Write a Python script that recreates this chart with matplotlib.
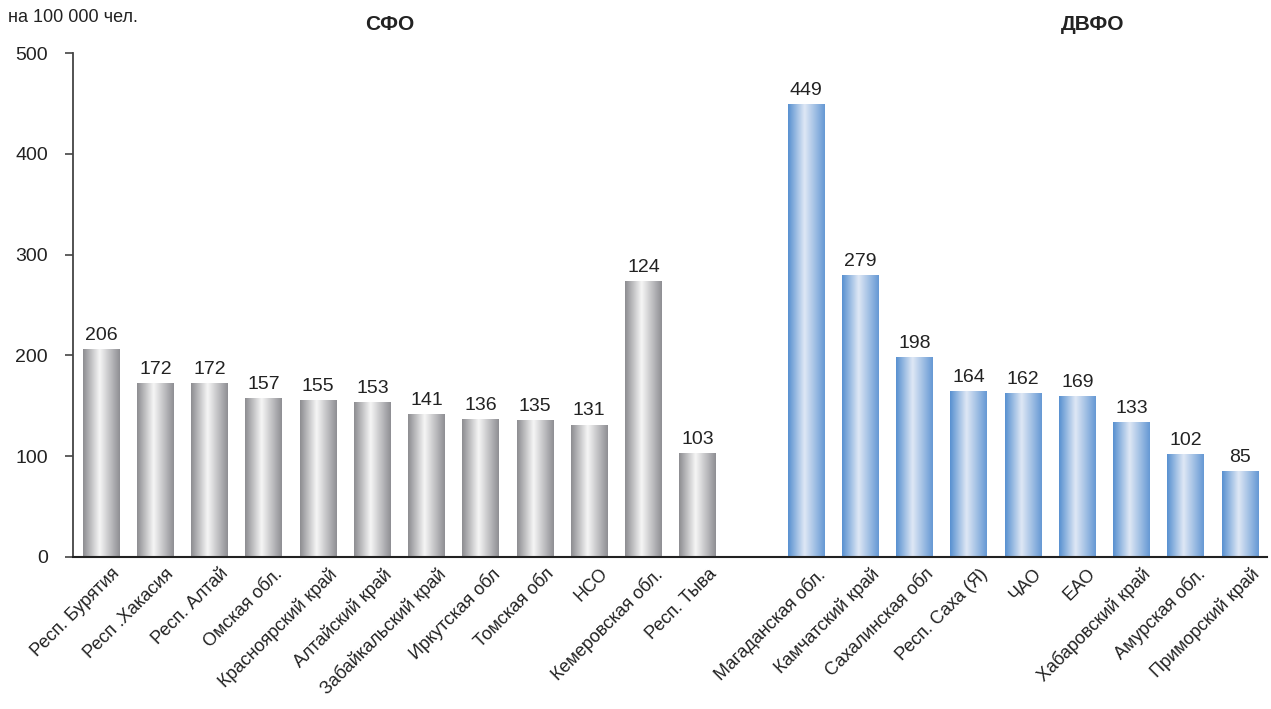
import numpy as np
import matplotlib.pyplot as plt
from matplotlib.colors import LinearSegmentedColormap
from matplotlib.transforms import ScaledTranslation

plt.rcParams['font.family'] = ['Liberation Sans', 'DejaVu Sans']

# ── data ──
sfo_names = ['Респ. Бурятия', 'Респ .Хакасия', 'Респ. Алтай', 'Омская обл.',
             'Красноярский край', 'Алтайский край', 'Забайкальский край',
             'Иркутская обл', 'Томская обл', 'НСО', 'Кемеровская обл.',
             'Респ. Тыва']
sfo_values = [206, 172, 172, 157, 155, 153, 141, 136, 135, 131, 273, 103]
sfo_labels = ['206', '172', '172', '157', '155', '153', '141', '136', '135',
              '131', '124', '103']

dvfo_names = ['Магаданская обл.', 'Камчатский край', 'Сахалинская обл',
              'Респ. Саха (Я)', 'ЧАО', 'ЕАО', 'Хабаровский край',
              'Амурская обл.', 'Приморский край']
dvfo_values = [449, 279, 198, 164, 162, 159, 133, 102, 85]
dvfo_labels = ['449', '279', '198', '164', '162', '169', '133', '102', '85']

y_ticks = [0, 100, 200, 300, 400, 500]

# gradients (left edge -> highlight -> right edge)
gray_cmap = LinearSegmentedColormap.from_list(
    'gray_bar', [(0.0, '#8c8c90'), (0.45, '#f6f6f6'), (1.0, '#8e8e93')])
blue_cmap = LinearSegmentedColormap.from_list(
    'blue_bar', [(0.0, '#5790d0'), (0.45, '#dfe8f5'), (1.0, '#6598d4')])

fig = plt.figure(figsize=(12.71, 7.09), dpi=100)
ax = fig.add_axes([0.0574, 0.2144, 0.9396, 0.7106])

x_sfo = np.arange(len(sfo_values))
x_dvfo = np.arange(len(dvfo_values)) + len(sfo_values) + 1
width = 0.68

grad = np.linspace(0, 1, 256).reshape(1, -1)


def draw_group(xs, values, labels, cmap):
    bars = ax.bar(xs, values, width, color='none', edgecolor='none', zorder=2)
    for b, lab in zip(bars, labels):
        x0 = b.get_x()
        x1 = x0 + b.get_width()
        h = b.get_height()
        ax.imshow(grad, cmap=cmap, extent=(x0, x1, 0, h), aspect='auto',
                  zorder=2, interpolation='bicubic')
        ax.annotate(lab, (x0 + b.get_width() / 2, h), xytext=(0, 4),
                    textcoords='offset points', ha='center', va='bottom',
                    fontsize=14, color='#222222')


draw_group(x_sfo, sfo_values, sfo_labels, gray_cmap)
draw_group(x_dvfo, dvfo_values, dvfo_labels, blue_cmap)

ax.set_xlim(-0.52, 21.5)
ax.set_ylim(0, 500)
ax.set_yticks(y_ticks)
ax.set_yticklabels([str(v) for v in y_ticks], fontsize=14, color='#222222')
ax.tick_params(axis='y', direction='out', length=6, width=1.2,
               color='#444444', pad=12)

all_x = list(x_sfo) + list(x_dvfo)
ax.set_xticks(all_x)
ax.set_xticklabels(sfo_names + dvfo_names, rotation=45, ha='right',
                   rotation_mode='anchor', fontsize=13, color='#222222')
ax.tick_params(axis='x', length=0, pad=6)
shift = ScaledTranslation(10 / 100, 0, fig.dpi_scale_trans)
for lbl in ax.get_xticklabels():
    lbl.set_transform(lbl.get_transform() + shift)

for side in ['top', 'right']:
    ax.spines[side].set_visible(False)
ax.spines['left'].set_color('#444444')
ax.spines['left'].set_linewidth(1.3)
ax.spines['bottom'].set_color('#222222')
ax.spines['bottom'].set_linewidth(1.5)

fig.text(0.006, 0.975, 'на 100 000 чел.', fontsize=13, va='center',
         color='#222222')
fig.text(390 / 1271, 1 - 24 / 709, 'СФО', fontsize=15, fontweight='bold',
         ha='center', va='center', color='#222222')
fig.text(1093 / 1271, 1 - 24 / 709, 'ДВФО', fontsize=15, fontweight='bold',
         ha='center', va='center', color='#222222')

fig.savefig('out.png', dpi=100)
